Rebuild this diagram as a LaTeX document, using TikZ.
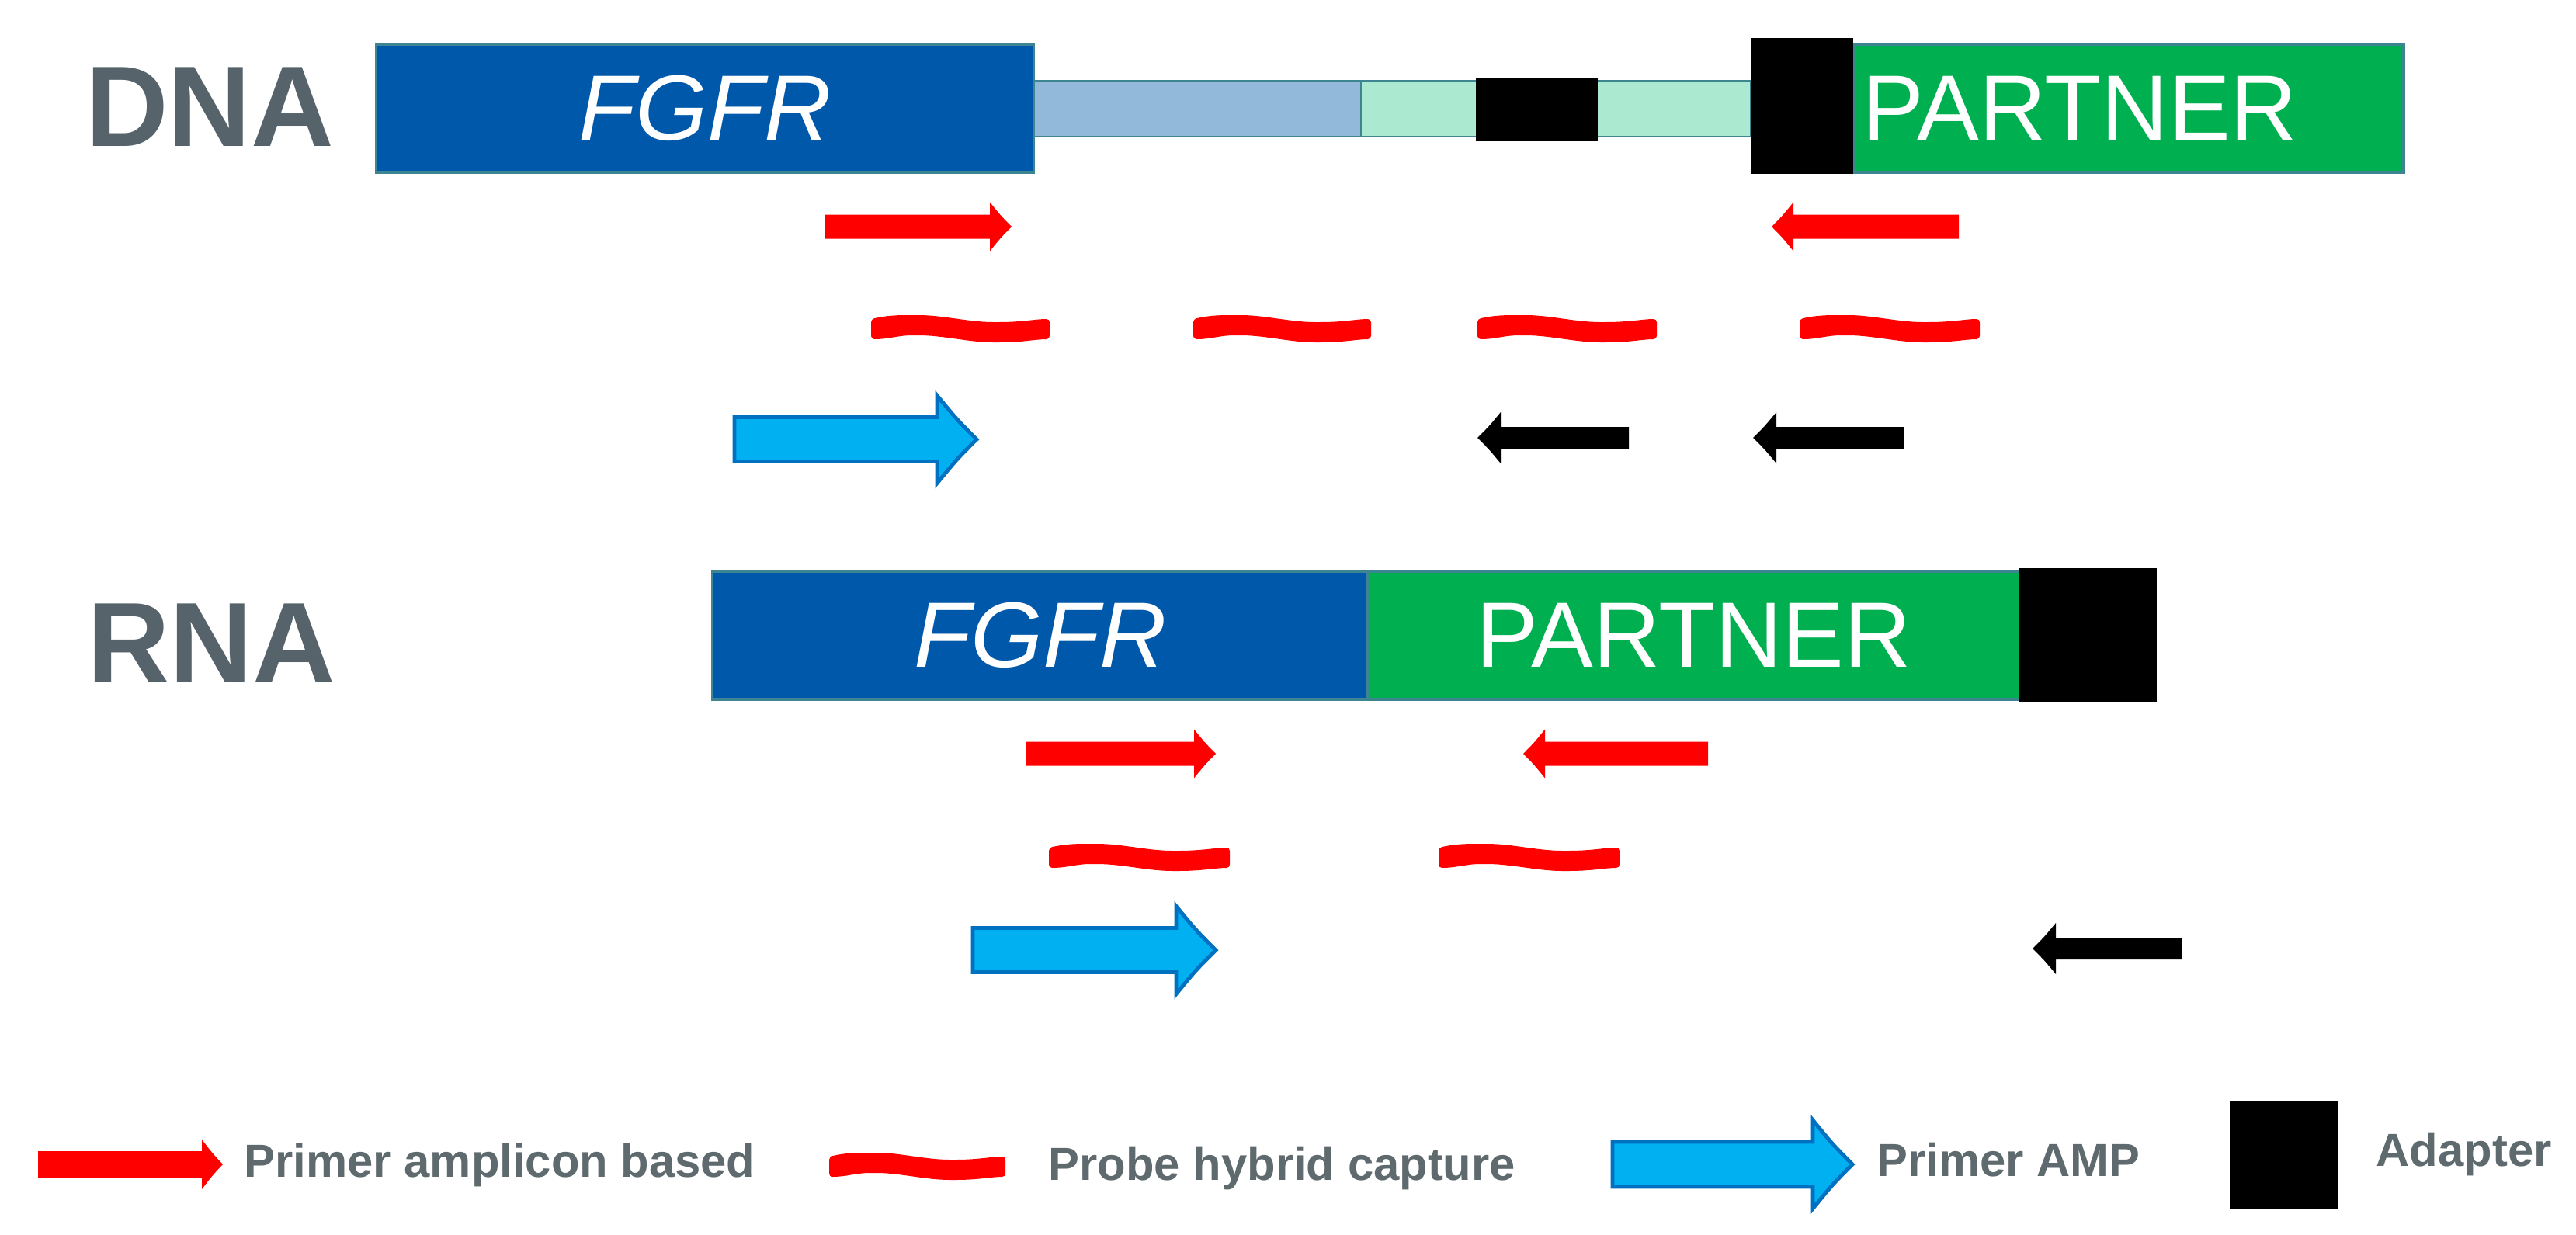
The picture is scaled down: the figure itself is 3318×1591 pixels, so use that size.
\documentclass[tikz,border=0pt]{standalone}
\usepackage{fontspec}
\setmainfont{Liberation Sans}
\definecolor{fgfrblue}{HTML}{0058AA}
\definecolor{partgreen}{HTML}{00B050}
\definecolor{barblue}{HTML}{92B8DA}
\definecolor{mint}{HTML}{ABE9D1}
\definecolor{edgecol}{HTML}{3D8590}
\definecolor{labgray}{HTML}{56636A}
\definecolor{leggray}{HTML}{5E6A6E}
\definecolor{ampfill}{HTML}{00B0F0}
\definecolor{ampedge}{HTML}{0070C0}
% block arrow: #1 style, #2 x tail, #3 x tip, #4 y centre, #5 shaft half, #6 head half, #7 head length
\newcommand{\blockarr}[7]{%
  \pgfmathsetmacro\baXb{#3-sign(#3-#2)*#7}%
  \pgfmathsetmacro\baXm{(\baXb+#3)/2}%
  \pgfmathsetmacro\baYa{#4-#5}\pgfmathsetmacro\baYb{#4+#5}%
  \pgfmathsetmacro\baYc{#4-#6}\pgfmathsetmacro\baYd{#4+#6}%
  \pgfmathsetmacro\baYe{#4-0.45*#6}\pgfmathsetmacro\baYf{#4+0.45*#6}%
  \path[#1] (#2,\baYa) -- (\baXb,\baYa) -- (\baXb,\baYc) .. controls (\baXm,\baYe) .. (#3,#4)
    .. controls (\baXm,\baYf) .. (\baXb,\baYd) -- (\baXb,\baYb) -- (#2,\baYb) -- cycle;}
% wavy probe: #1 x left, #2 x right, #3 y centre
\newcommand{\probe}[3]{%
  \begin{scope}[shift={(#1,#3)}, xscale={(#2-#1)/100}]
    \fill[red, rounded corners=1.2pt] (0,-13) .. controls (10,-18) and (15,-18) .. (25,-18)
      .. controls (40,-18) and (55,-9) .. (70,-9) .. controls (85,-9) and (92,-13) .. (100,-13)
      -- (100,13) .. controls (92,13) and (85,17) .. (70,17)
      .. controls (55,17) and (40,8) .. (25,8) .. controls (15,8) and (10,13) .. (0,13) -- cycle;
  \end{scope}}
\begin{document}
\begin{tikzpicture}[x=0.01cm,y=-0.01cm,
  gene/.style={draw=edgecol, line width=0.9pt, inner sep=0pt, text=white, font=\fontsize{34}{40}\selectfont},
  genetext/.style={inner sep=0pt, text=white, font=\fontsize{34}{40}\selectfont},
  lab/.style={text=labgray, font=\bfseries\fontsize{42}{50}\selectfont, inner sep=0pt, anchor=base},
  leg/.style={text=leggray, font=\bfseries\fontsize{17}{20}\selectfont, inner sep=0pt, anchor=base west},
  primer/.style={fill=red},
  amp/.style={fill=ampfill, draw=ampedge, line width=1.4pt},
  adaptarr/.style={fill=black},
  bar/.style={draw=edgecol, line width=0.6pt}]
\useasboundingbox (0,0) rectangle (3318,1591);
\fill[white] (0,0) rectangle (3318,1591);

% ---------------- DNA ----------------
\node[lab] (dnalab) at (270,189) {DNA};
\path[bar, fill=barblue] (1331,104) rectangle (1753,176);
\path[bar, fill=mint] (1753,104) rectangle (2255,176);
\fill (1901,100) rectangle (2058,182);
\node[gene, fill=fgfrblue, minimum width=8.46cm, minimum height=1.65cm] (dnafgfr) at (908,139.5) {\itshape FGFR};
\path[draw=edgecol, line width=0.9pt, fill=partgreen] (2387,57) rectangle (3096,222);
\node[genetext] (dnapart) at (2679,139.5) {PARTNER};
\fill (2255,49) rectangle (2387,224);

\blockarr{primer}{1062}{1303}{292}{15.5}{31.5}{28}
\blockarr{primer}{2523}{2282}{292}{15.5}{31.5}{28}
\probe{1122}{1352}{424}
\probe{1537}{1766}{424}
\probe{1903}{2134}{424}
\probe{2318}{2550}{424}
\blockarr{amp}{946}{1258}{566}{28.5}{56.5}{51}
\blockarr{adaptarr}{2098}{1903}{564}{14}{33}{30}
\blockarr{adaptarr}{2452}{2258}{564}{14}{33}{30}

% ---------------- RNA ----------------
\node[lab] (rnalab) at (272,879) {RNA};
\node[gene, fill=fgfrblue, minimum width=8.44cm, minimum height=1.65cm] (rnafgfr) at (1340,818.5) {\itshape FGFR};
\node[gene, fill=partgreen, minimum width=8.39cm, minimum height=1.65cm] (rnapart) at (2181.5,818.5) {PARTNER};
\fill (2601,732) rectangle (2778,905);

\blockarr{primer}{1322}{1566}{971}{15.5}{31.5}{28}
\blockarr{primer}{2200}{1962}{971}{15.5}{31.5}{28}
\probe{1351}{1584}{1105}
\probe{1853}{2086}{1105}
\blockarr{amp}{1253}{1566}{1224}{28.5}{56.5}{51}
\blockarr{adaptarr}{2810}{2618}{1222}{14}{33}{30}

% ---------------- legend ----------------
\blockarr{primer}{49}{287}{1500}{17}{32}{27}
\node[leg] (leg1) at (314,1516) {Primer amplicon based};
\probe{1068}{1295}{1503}
\node[leg] (leg2) at (1350,1520) {Probe hybrid capture};
\blockarr{amp}{2077}{2386}{1500}{29}{57}{51}
\node[leg] (leg3) at (2417,1515) {Primer AMP};
\fill (2872,1418) rectangle (3012,1558);
\node[leg] (leg4) at (3060,1502) {Adapter};
\end{tikzpicture}
\end{document}
